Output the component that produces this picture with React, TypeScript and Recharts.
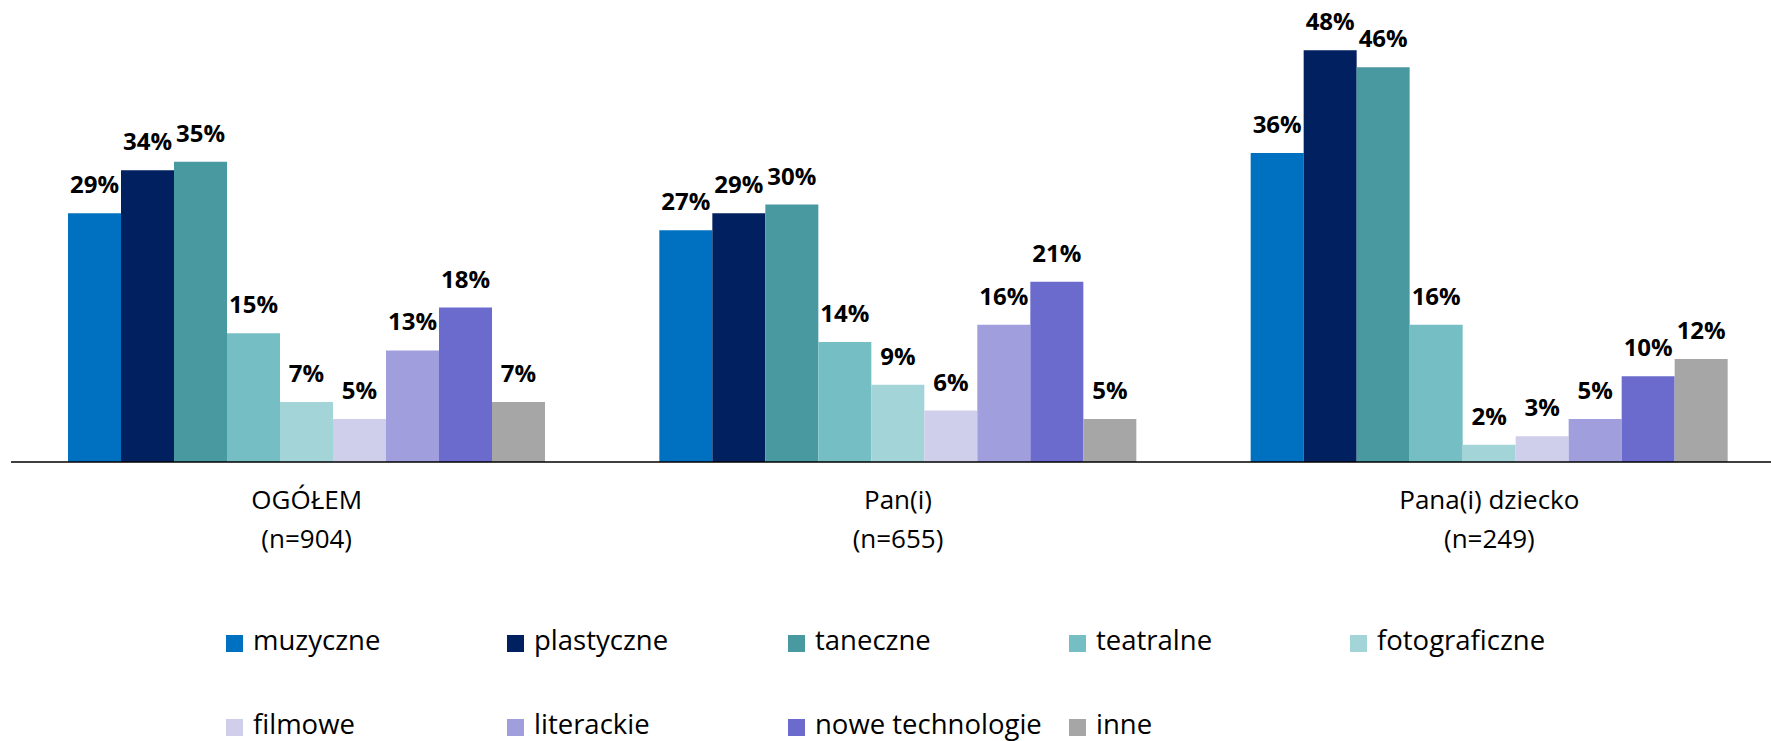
import { BarChart, Bar, XAxis, YAxis, LabelList } from 'recharts';

const groups = ['OGÓŁEM', 'Pan(i)', 'Pana(i) dziecko'];
const sampleSizes = [904, 655, 249];

const seriesNames = [
  'muzyczne',
  'plastyczne',
  'taneczne',
  'teatralne',
  'fotograficzne',
  'filmowe',
  'literackie',
  'nowe technologie',
  'inne',
];
const seriesColors = [
  '#0070C0',
  '#002060',
  '#4899A0',
  '#75BFC4',
  '#A2D4D8',
  '#CFCFEC',
  '#A09EDC',
  '#6B6BCD',
  '#A6A6A6',
];

// values per series, in order of groups
const muzyczne = [29, 27, 36];
const plastyczne = [34, 29, 48];
const taneczne = [35, 30, 46];
const teatralne = [15, 14, 16];
const fotograficzne = [7, 9, 2];
const filmowe = [5, 6, 3];
const literackie = [13, 16, 5];
const noweTechnologie = [18, 21, 10];
const inne = [7, 5, 12];

const seriesValues = [
  muzyczne,
  plastyczne,
  taneczne,
  teatralne,
  fotograficzne,
  filmowe,
  literackie,
  noweTechnologie,
  inne,
];

const data = groups.map((name, i) => {
  const row: Record<string, string | number> = { name };
  seriesValues.forEach((vals, s) => {
    row[`s${s}`] = vals[i];
  });
  return row;
});

const FONT = '"Open Sans", "Noto Sans", sans-serif';

function GroupTick(props: { x?: number; y?: number; payload?: { value: string } }) {
  const { x = 0, y = 0, payload } = props;
  const label = payload?.value ?? '';
  const i = groups.indexOf(label);
  return (
    <g transform={`translate(${x},${y})`}>
      <text textAnchor="middle" fontFamily={FONT} fontSize={26} fill="#000">
        <tspan x={0} dy={47}>
          {label}
        </tspan>
        <tspan x={0} dy={39}>
          (n={sampleSizes[i]})
        </tspan>
      </text>
    </g>
  );
}

// legend: 5 columns, 2 rows
const legendLeft = 226;
const legendColStep = 281;
const legendRows = [643, 727];

function ChartLegend() {
  return (
    <>
      {seriesNames.map((name, s) => {
        const col = s % 5;
        const row = Math.floor(s / 5);
        return (
          <div
            key={name}
            style={{
              position: 'absolute',
              left: legendLeft + col * legendColStep,
              top: legendRows[row] - 13,
              height: 26,
              display: 'flex',
              alignItems: 'center',
              whiteSpace: 'nowrap',
            }}
          >
            <span
              style={{
                display: 'inline-block',
                width: 17,
                height: 17,
                background: seriesColors[s],
                marginRight: 10,
              }}
            />
            <span
              style={{
                fontFamily: FONT,
                fontSize: 27.5,
                lineHeight: '26px',
                color: '#000',
                position: 'relative',
                top: -3,
              }}
            >
              {name}
            </span>
          </div>
        );
      })}
    </>
  );
}

export default function App() {
  return (
    <div
      style={{
        position: 'absolute',
        left: 0,
        top: 0,
        width: 1771,
        height: 741,
        overflow: 'hidden',
        background: '#fff',
      }}
    >
      <BarChart
        width={1785}
        height={741}
        data={data}
        margin={{ top: 33, right: 0, bottom: 0, left: 11 }}
        barCategoryGap={57}
        barGap={0}
      >
        <XAxis
          dataKey="name"
          height={279}
          tickLine={false}
          tickSize={0}
          tickMargin={0}
          axisLine={{ stroke: '#000', strokeWidth: 1.3 }}
          tick={<GroupTick />}
          interval={0}
        />
        <YAxis hide domain={[0, 50]} />
        {seriesNames.map((name, s) => (
          <Bar
            key={name}
            dataKey={`s${s}`}
            name={name}
            fill={seriesColors[s]}
            isAnimationActive={false}
          >
            <LabelList
              dataKey={`s${s}`}
              position="top"
              offset={20}
              formatter={(v: unknown) => `${v}%`}
              style={{ fontFamily: FONT, fontSize: 24, fontWeight: 700, fill: '#000' }}
            />
          </Bar>
        ))}
      </BarChart>
      <ChartLegend />
    </div>
  );
}
